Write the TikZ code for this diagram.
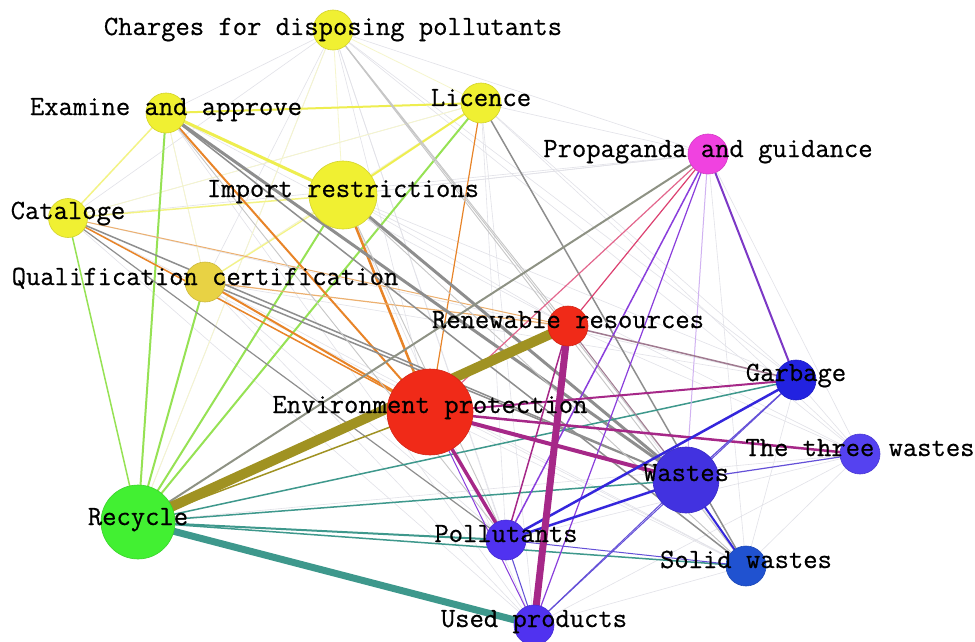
\documentclass[tikz,border=0pt]{standalone}
\usepackage{fontspec}
\newfontfamily\lblfont[FakeBold=0.6]{Latin Modern Mono}
\pgfdeclarelayer{edges}
\pgfdeclarelayer{labels}
\pgfsetlayers{edges,main,labels}

% node colours
\definecolor{cYel}{HTML}{F0F032}
\definecolor{cQua}{HTML}{E8D244}
\definecolor{cPro}{HTML}{F042E0}
\definecolor{cRed}{HTML}{F02A18}
\definecolor{cGar}{HTML}{2222E0}
\definecolor{cThr}{HTML}{5542F0}
\definecolor{cWas}{HTML}{4232E0}
\definecolor{cRec}{HTML}{42F032}
\definecolor{cPol}{HTML}{5032F0}
\definecolor{cSol}{HTML}{2052D0}
% edge colours (mixtures of the end colours)
\definecolor{eYY}{HTML}{EEEE50}
\definecolor{eYG}{HTML}{96E254}
\definecolor{eYR}{HTML}{E88428}
\definecolor{eYRl}{HTML}{ECB070}
\definecolor{eYB}{HTML}{8E8E8E}
\definecolor{eRG}{HTML}{A09222}
\definecolor{eGB}{HTML}{3E988C}
\definecolor{eRB}{HTML}{A62888}
\definecolor{ePB}{HTML}{8A3EDC}
\definecolor{ePR}{HTML}{DC4070}
\definecolor{ePG}{HTML}{8E9284}
\definecolor{eBB}{HTML}{3426DC}
\definecolor{eBBl}{HTML}{6450D8}
\definecolor{eRBg}{HTML}{A07A90}
\definecolor{eFaint}{HTML}{E2E2E8}
\definecolor{eFaintY}{HTML}{F6F6CC}

\tikzset{
  vtx/.style n args={2}{circle, fill=#1, draw=#1!88!black, line width=0.6pt,
                        minimum size=#2, inner sep=0pt},
  lbl/.style={font=\fontsize{27.8}{27.8}\selectfont\lblfont, inner sep=0pt,
              anchor=base, text=black},
  faint/.style={eFaint, line width=0.6pt},
  fainty/.style={eFaintY, line width=0.8pt}
}

\begin{document}
\begin{tikzpicture}[x=1pt,y=-1pt]
\useasboundingbox (0,0) rectangle (975,642);

% ---- vertices ----
\node[vtx={cYel}{40pt}] (C)   at (333,30)  {};
\node[vtx={cYel}{40pt}] (E)   at (166,113) {};
\node[vtx={cYel}{40pt}] (L)   at (481,103) {};
\node[vtx={cYel}{68pt}] (I)   at (343,195) {};
\node[vtx={cYel}{39pt}] (Cat) at (68,218)  {};
\node[vtx={cQua}{40pt}] (Q)   at (205,282) {};
\node[vtx={cPro}{40pt}] (P)   at (708,154) {};
\node[vtx={cRed}{40pt}] (R)   at (568,326) {};
\node[vtx={cRed}{86pt}] (EP)  at (430,412) {};
\node[vtx={cGar}{40pt}] (G)   at (796,380) {};
\node[vtx={cThr}{40pt}] (T)   at (860,454) {};
\node[vtx={cWas}{66pt}] (W)   at (686,480) {};
\node[vtx={cRec}{74pt}] (Rc)  at (138,522) {};
\node[vtx={cPol}{40pt}] (Po)  at (506,540) {};
\node[vtx={cSol}{40pt}] (S)   at (746,566) {};
\node[vtx={cPol}{40pt}] (U)   at (534,625) {};

% ---- connectors ----
\begin{pgfonlayer}{edges}
\fill[white] (0,0) rectangle (975,642);
% faint background links
\foreach \a/\b in {C/E, C/Cat, C/Q, C/EP, C/Po, C/U, C/G, C/T, C/P,
                   E/Q, E/R, E/U, L/Cat, L/Q, L/Po, L/U, L/G, L/T,
                   I/R, I/U, I/G, I/T, I/P, Cat/U, Cat/S, Q/Po, Q/U, Q/S,
                   P/I, P/L, P/T, P/S, P/Cat, G/T, G/S, T/S, T/Po, T/U,
                   S/U, R/T, R/S, EP/S, Rc/T, Rc/C, Q/G, Cat/G}
  \draw[faint] (\a.center) -- (\b.center);
\foreach \a/\b in {C/L, C/I, E/Q, Q/L, Cat/L, Rc/C}
  \draw[fainty] (\a.center) -- (\b.center);

% yellow group
\draw[eYY, line width=2pt]   (E.center) -- (L.center);
\draw[eYY, line width=3pt]   (E.center) -- (I.center);
\draw[eYY, line width=2pt]   (L.center) -- (I.center);
\draw[eYY!70!white, line width=1.5pt] (E.center) -- (Cat.center);
\draw[eYY!70!white, line width=1.5pt] (Cat.center) -- (I.center);
\draw[eYY!70!white, line width=1.2pt] (Q.center) -- (I.center);
% to Recycle
\draw[eYG, line width=2pt]   (E.center) -- (Rc.center);
\draw[eYG, line width=2pt]   (L.center) -- (Rc.center);
\draw[eYG, line width=2pt]   (I.center) -- (Rc.center);
\draw[eYG, line width=2pt]   (Q.center) -- (Rc.center);
\draw[eYG, line width=1.5pt] (Cat.center) -- (Rc.center);
% to Environment protection and Renewable resources
\draw[eYR, line width=2pt]   (E.center) -- (EP.center);
\draw[eYR, line width=2.5pt] (I.center) -- (EP.center);
\draw[eYR, line width=2pt]   (Q.center) -- (EP.center);
\draw[eYR, line width=1.5pt] (Cat.center) -- (EP.center);
\draw[eYR, line width=1.2pt] (L.center) -- (EP.center);
\draw[eYRl, line width=1.2pt] (Q.center) -- (R.center);
\draw[eYRl, line width=1pt]  (Cat.center) -- (R.center);
% to the blue group
\draw[eYB, line width=3pt]   (E.center) -- (W.center);
\draw[eYB, line width=3pt]   (I.center) -- (W.center);
\draw[eYB, line width=1.5pt] (E.center) -- (S.center);
\draw[eYB, line width=1.5pt] (L.center) -- (S.center);
\draw[eYB, line width=1.5pt] (Q.center) -- (W.center);
\draw[eYB, line width=1.5pt] (Cat.center) -- (W.center);
\draw[eYB, line width=1.2pt] (Cat.center) -- (Po.center);
\draw[eYB!50!white, line width=0.9pt] (C.center) -- (W.center);
\draw[eYB!50!white, line width=0.9pt] (C.center) -- (S.center);
\draw[eYB!50!white, line width=0.9pt] (I.center) -- (S.center);
\draw[eYB!50!white, line width=0.9pt] (I.center) -- (Po.center);
\draw[eYB!50!white, line width=0.9pt] (E.center) -- (Po.center);
\draw[eYB!50!white, line width=0.9pt] (C.center) -- (R.center);

% Recycle links
\draw[ePG, line width=2pt]   (Rc.center) -- (P.center);
\draw[eRG, line width=1.5pt] (Rc.center) -- (EP.center);
\draw[eGB, line width=2pt]   (Rc.center) -- (Po.center);
\draw[eGB, line width=1.5pt] (Rc.center) -- (S.center);
\draw[eGB, line width=1.5pt] (Rc.center) -- (W.center);
\draw[eGB, line width=1.5pt] (Rc.center) -- (G.center);

% Propaganda and guidance links
\draw[ePR, line width=1.2pt] (P.center) -- (R.center);
\draw[ePR!80!white, line width=1.2pt] (P.center) -- (EP.center);
\draw[ePB, line width=1.5pt] (P.center) -- (Po.center);
\draw[ePB, line width=1.2pt] (P.center) -- (U.center);
\draw[ePB!40!white, line width=1pt] (P.center) -- (W.center);
\draw[ePB!90!black, line width=2pt] (P.center) -- (G.center);

% red group to blue group
\draw[eRB, line width=1.5pt] (R.center) -- (Po.center);
\draw[eRBg, line width=1.5pt] (R.center) -- (G.center);
\draw[eRBg, line width=1pt]   (R.center) -- (W.center);
\draw[eRB, line width=4pt]   (EP.center) -- (W.center);
\draw[eRB, line width=3.5pt] (EP.center) -- (Po.center);
\draw[eRB, line width=2.5pt] (EP.center) -- (T.center);
\draw[eRB, line width=2pt]   (EP.center) -- (G.center);
\draw[ePB, line width=1pt]   (EP.center) -- (U.center);

% blue group
\draw[eBB, line width=2.5pt] (G.center) -- (Po.center);
\draw[eBB, line width=2.5pt] (W.center) -- (Po.center);
\draw[eBB, line width=2pt]   (W.center) -- (S.center);
\draw[eBBl, line width=1.2pt] (W.center) -- (G.center);
\draw[eBBl, line width=1.2pt] (W.center) -- (T.center);
\draw[eBBl, line width=1pt]   (W.center) -- (U.center);
\draw[eBBl, line width=1pt]   (G.center) -- (U.center);
\draw[eBBl, line width=1pt]   (Po.center) -- (S.center);
\draw[eBBl, line width=1pt]   (Po.center) -- (U.center);

% strongest links
\draw[eRG, line width=10pt]  (Rc.center) -- (R.center);
\draw[eGB, line width=7pt]   (Rc.center) -- (U.center);
\draw[eRB, line width=7pt]   (R.center) -- (U.center);
\end{pgfonlayer}

% ---- labels ----
\begin{pgfonlayer}{labels}
\node[lbl] at ([yshift=-5pt]C.center)   {Charges for disposing pollutants};
\node[lbl] at ([yshift=-2pt]E.center)   {Examine and approve};
\node[lbl] at ([yshift=-3pt]L.center)   {Licence};
\node[lbl] at ([yshift=-2pt]I.center)   {Import restrictions};
\node[lbl] at ([yshift=-1pt]Cat.center) {Cataloge};
\node[lbl] at ([yshift=-3pt]Q.center)   {Qualification certification};
\node[lbl] at ([yshift=-3pt]P.center)   {Propaganda and guidance};
\node[lbl] at ([yshift=-2pt]R.center)   {Renewable resources};
\node[lbl] at ([yshift=-1pt]EP.center)  {Environment protection};
\node[lbl] at ([yshift=-1pt]G.center)   {Garbage};
\node[lbl] at ([yshift=-2pt]T.center)   {The three wastes};
\node[lbl] at ([yshift=-1pt]W.center)   {Wastes};
\node[lbl] at ([yshift=-3pt]Rc.center)  {Recycle};
\node[lbl] at ([yshift=-2pt]Po.center)  {Pollutants};
\node[lbl] at ([yshift=-2pt]S.center)   {Solid wastes};
\node[lbl] at ([yshift=-2pt]U.center)   {Used products};
\end{pgfonlayer}
\end{tikzpicture}
\end{document}
